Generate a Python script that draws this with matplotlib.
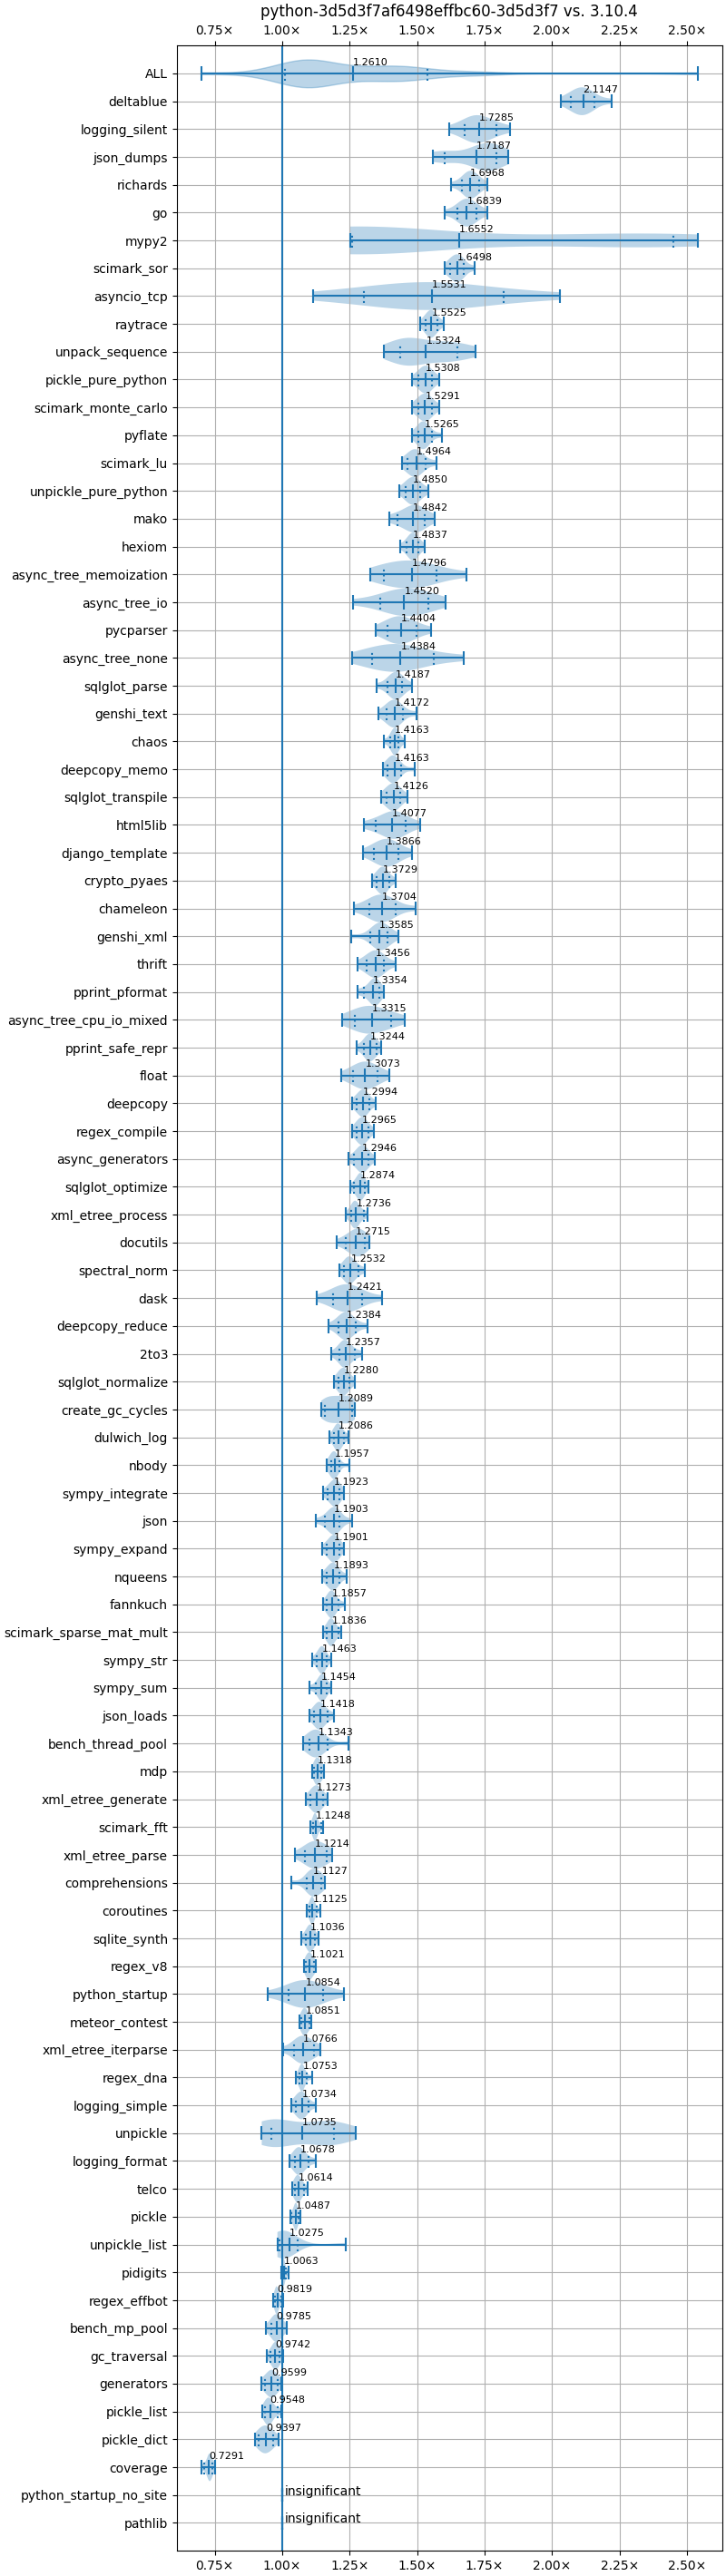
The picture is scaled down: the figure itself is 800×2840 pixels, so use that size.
import numpy as np
import matplotlib
matplotlib.use("Agg")
import matplotlib.pyplot as plt
from matplotlib.ticker import FuncFormatter

title = "python-3d5d3f7af6498effbc60-3d5d3f7 vs. 3.10.4"

# benchmarks, top of the chart to the bottom
benchmarks = [
    "deltablue", "logging_silent", "json_dumps", "richards", "go", "mypy2",
    "scimark_sor", "asyncio_tcp", "raytrace", "unpack_sequence",
    "pickle_pure_python", "scimark_monte_carlo", "pyflate", "scimark_lu",
    "unpickle_pure_python", "mako", "hexiom", "async_tree_memoization",
    "async_tree_io", "pycparser", "async_tree_none", "sqlglot_parse",
    "genshi_text", "chaos", "deepcopy_memo", "sqlglot_transpile", "html5lib",
    "django_template", "crypto_pyaes", "chameleon", "genshi_xml", "thrift",
    "pprint_pformat", "async_tree_cpu_io_mixed", "pprint_safe_repr", "float",
    "deepcopy", "regex_compile", "async_generators", "sqlglot_optimize",
    "xml_etree_process", "docutils", "spectral_norm", "dask",
    "deepcopy_reduce", "2to3", "sqlglot_normalize", "create_gc_cycles",
    "dulwich_log", "nbody", "sympy_integrate", "json", "sympy_expand",
    "nqueens", "fannkuch", "scimark_sparse_mat_mult", "sympy_str",
    "sympy_sum", "json_loads", "bench_thread_pool", "mdp",
    "xml_etree_generate", "scimark_fft", "xml_etree_parse", "comprehensions",
    "coroutines", "sqlite_synth", "regex_v8", "python_startup",
    "meteor_contest", "xml_etree_iterparse", "regex_dna", "logging_simple",
    "unpickle", "logging_format", "telco", "pickle", "unpickle_list",
    "pidigits", "regex_effbot", "bench_mp_pool", "gc_traversal", "generators",
    "pickle_list", "pickle_dict", "coverage", "python_startup_no_site",
    "pathlib",
]

# speedup samples per benchmark (None = insignificant), same order
samples = [
    [2.031, 2.070, 2.076, 2.094, 2.106, 2.1107, 2.118, 2.130, 2.148, 2.157, 2.221],
    [1.619, 1.677, 1.678, 1.702, 1.718, 1.7245, 1.734, 1.750, 1.774, 1.793, 1.844],
    [1.559, 1.602, 1.610, 1.715, 1.735, 1.750, 1.758, 1.765, 1.7807, 1.793, 1.838],
    [1.626, 1.667, 1.673, 1.685, 1.693, 1.6988, 1.701, 1.709, 1.721, 1.730, 1.761],
    [1.602, 1.648, 1.655, 1.670, 1.680, 1.6819, 1.690, 1.700, 1.715, 1.720, 1.761],
    [1.251, 1.258, 1.262, 1.268, 1.275, 1.285, 1.300, 2.050, 2.2702, 2.450, 2.538],
    [1.603, 1.623, 1.624, 1.636, 1.644, 1.6488, 1.652, 1.660, 1.672, 1.673, 1.712],
    [1.115, 1.302, 1.350, 1.4475, 1.5125, 1.5471, 1.5775, 1.6425, 1.740, 1.820, 2.030],
    [1.512, 1.531, 1.534, 1.543, 1.549, 1.5505, 1.555, 1.561, 1.570, 1.575, 1.597],
    [1.378, 1.438, 1.455, 1.465, 1.475, 1.490, 1.560, 1.600, 1.6304, 1.648, 1.717],
    [1.479, 1.505, 1.507, 1.519, 1.527, 1.5308, 1.535, 1.543, 1.555, 1.555, 1.583],
    [1.479, 1.503, 1.504, 1.516, 1.524, 1.5311, 1.532, 1.540, 1.552, 1.556, 1.583],
    [1.480, 1.503, 1.506, 1.515, 1.521, 1.5215, 1.527, 1.533, 1.542, 1.553, 1.590],
    [1.442, 1.464, 1.469, 1.481, 1.489, 1.4954, 1.497, 1.505, 1.517, 1.531, 1.570],
    [1.433, 1.456, 1.461, 1.473, 1.481, 1.482, 1.489, 1.497, 1.509, 1.512, 1.542],
    [1.396, 1.428, 1.451, 1.469, 1.481, 1.4872, 1.493, 1.505, 1.523, 1.528, 1.565],
    [1.438, 1.462, 1.466, 1.475, 1.481, 1.4837, 1.487, 1.493, 1.502, 1.505, 1.528],
    [1.326, 1.378, 1.384, 1.429, 1.459, 1.4716, 1.489, 1.519, 1.564, 1.573, 1.683],
    [1.262, 1.362, 1.379, 1.418, 1.444, 1.460, 1.470, 1.496, 1.535, 1.540, 1.606],
    [1.345, 1.389, 1.390, 1.414, 1.430, 1.4364, 1.446, 1.462, 1.486, 1.496, 1.550],
    [1.259, 1.332, 1.338, 1.383, 1.413, 1.4274, 1.443, 1.473, 1.518, 1.563, 1.673],
    [1.349, 1.389, 1.397, 1.409, 1.417, 1.4177, 1.425, 1.433, 1.445, 1.445, 1.479],
    [1.356, 1.386, 1.391, 1.403, 1.411, 1.4142, 1.419, 1.427, 1.439, 1.447, 1.496],
    [1.376, 1.400, 1.405, 1.411, 1.415, 1.4183, 1.419, 1.423, 1.429, 1.430, 1.453],
    [1.372, 1.391, 1.394, 1.403, 1.409, 1.4133, 1.415, 1.421, 1.430, 1.441, 1.490],
    [1.366, 1.386, 1.388, 1.400, 1.408, 1.4116, 1.416, 1.424, 1.436, 1.438, 1.465],
    [1.302, 1.345, 1.368, 1.389, 1.403, 1.4107, 1.417, 1.431, 1.452, 1.456, 1.511],
    [1.299, 1.341, 1.344, 1.365, 1.379, 1.3876, 1.393, 1.407, 1.428, 1.430, 1.479],
    [1.332, 1.350, 1.354, 1.363, 1.369, 1.3719, 1.375, 1.381, 1.390, 1.395, 1.421],
    [1.266, 1.322, 1.326, 1.347, 1.361, 1.3664, 1.375, 1.389, 1.410, 1.419, 1.493],
    [1.254, 1.325, 1.340, 1.352, 1.360, 1.3605, 1.368, 1.376, 1.388, 1.391, 1.429],
    [1.279, 1.311, 1.315, 1.330, 1.340, 1.3476, 1.350, 1.360, 1.375, 1.375, 1.419],
    [1.279, 1.302, 1.321, 1.330, 1.336, 1.3414, 1.342, 1.348, 1.357, 1.358, 1.375],
    [1.221, 1.269, 1.269, 1.299, 1.319, 1.3265, 1.339, 1.359, 1.389, 1.403, 1.453],
    [1.277, 1.302, 1.307, 1.316, 1.322, 1.3234, 1.328, 1.334, 1.343, 1.349, 1.367],
    [1.219, 1.261, 1.265, 1.286, 1.300, 1.3083, 1.314, 1.328, 1.349, 1.354, 1.396],
    [1.259, 1.274, 1.281, 1.290, 1.296, 1.2984, 1.302, 1.308, 1.317, 1.322, 1.346],
    [1.259, 1.274, 1.278, 1.287, 1.293, 1.2955, 1.299, 1.305, 1.314, 1.319, 1.338],
    [1.244, 1.267, 1.278, 1.287, 1.293, 1.2926, 1.299, 1.305, 1.314, 1.319, 1.342],
    [1.251, 1.267, 1.276, 1.282, 1.286, 1.2904, 1.290, 1.294, 1.300, 1.305, 1.320],
    [1.235, 1.256, 1.260, 1.266, 1.270, 1.2686, 1.274, 1.278, 1.284, 1.302, 1.316],
    [1.202, 1.235, 1.244, 1.259, 1.269, 1.2775, 1.279, 1.289, 1.304, 1.305, 1.323],
    [1.212, 1.230, 1.233, 1.242, 1.248, 1.2492, 1.254, 1.260, 1.269, 1.282, 1.306],
    [1.129, 1.188, 1.192, 1.216, 1.232, 1.2381, 1.248, 1.264, 1.288, 1.297, 1.371],
    [1.172, 1.210, 1.212, 1.224, 1.232, 1.2374, 1.240, 1.248, 1.260, 1.272, 1.315],
    [1.182, 1.213, 1.215, 1.224, 1.230, 1.2347, 1.236, 1.242, 1.251, 1.269, 1.296],
    [1.191, 1.208, 1.209, 1.218, 1.224, 1.228, 1.230, 1.236, 1.245, 1.250, 1.269],
    [1.144, 1.158, 1.168, 1.182, 1.196, 1.2089, 1.224, 1.238, 1.252, 1.258, 1.269],
    [1.174, 1.191, 1.196, 1.202, 1.206, 1.2046, 1.210, 1.214, 1.220, 1.230, 1.247],
    [1.165, 1.180, 1.180, 1.186, 1.190, 1.1947, 1.194, 1.198, 1.204, 1.213, 1.248],
    [1.151, 1.169, 1.175, 1.184, 1.190, 1.1963, 1.196, 1.202, 1.211, 1.211, 1.230],
    [1.125, 1.158, 1.173, 1.182, 1.188, 1.1923, 1.194, 1.200, 1.209, 1.213, 1.259],
    [1.149, 1.166, 1.173, 1.182, 1.188, 1.1891, 1.194, 1.200, 1.209, 1.211, 1.230],
    [1.149, 1.166, 1.170, 1.179, 1.185, 1.1883, 1.191, 1.197, 1.206, 1.211, 1.240],
    [1.152, 1.166, 1.171, 1.177, 1.181, 1.1857, 1.185, 1.189, 1.195, 1.208, 1.233],
    [1.152, 1.166, 1.170, 1.176, 1.180, 1.1826, 1.184, 1.188, 1.194, 1.208, 1.219],
    [1.112, 1.128, 1.134, 1.140, 1.144, 1.1483, 1.148, 1.152, 1.158, 1.163, 1.182],
    [1.102, 1.124, 1.135, 1.141, 1.145, 1.1464, 1.149, 1.153, 1.159, 1.163, 1.182],
    [1.102, 1.119, 1.122, 1.131, 1.137, 1.1378, 1.143, 1.149, 1.158, 1.169, 1.192],
    [1.076, 1.102, 1.102, 1.114, 1.122, 1.1283, 1.130, 1.138, 1.150, 1.169, 1.246],
    [1.110, 1.119, 1.120, 1.126, 1.130, 1.1288, 1.134, 1.138, 1.144, 1.146, 1.154],
    [1.089, 1.105, 1.108, 1.117, 1.123, 1.1293, 1.129, 1.135, 1.144, 1.152, 1.169],
    [1.105, 1.115, 1.117, 1.120, 1.122, 1.1198, 1.124, 1.126, 1.129, 1.143, 1.152],
    [1.048, 1.085, 1.086, 1.104, 1.116, 1.1234, 1.128, 1.140, 1.158, 1.163, 1.184],
    [1.035, 1.091, 1.092, 1.104, 1.112, 1.1147, 1.120, 1.128, 1.140, 1.146, 1.157],
    [1.092, 1.100, 1.105, 1.108, 1.110, 1.1115, 1.112, 1.114, 1.117, 1.126, 1.142],
    [1.071, 1.088, 1.091, 1.097, 1.101, 1.1056, 1.105, 1.109, 1.115, 1.122, 1.135],
    [1.082, 1.089, 1.089, 1.095, 1.099, 1.1031, 1.103, 1.107, 1.113, 1.119, 1.124],
    [0.945, 1.022, 1.024, 1.054, 1.074, 1.0864, 1.094, 1.114, 1.144, 1.152, 1.230],
    [1.064, 1.072, 1.072, 1.078, 1.082, 1.0851, 1.086, 1.090, 1.096, 1.102, 1.109],
    [1.002, 1.044, 1.047, 1.062, 1.072, 1.0756, 1.082, 1.092, 1.107, 1.119, 1.140],
    [1.051, 1.063, 1.067, 1.070, 1.072, 1.0753, 1.074, 1.076, 1.079, 1.091, 1.110],
    [1.034, 1.050, 1.054, 1.063, 1.069, 1.0704, 1.075, 1.081, 1.090, 1.096, 1.125],
    [0.924, 0.959, 0.962, 0.968, 0.980, 1.060, 1.150, 1.170, 1.1725, 1.191, 1.272],
    [1.028, 1.046, 1.047, 1.056, 1.062, 1.0618, 1.068, 1.074, 1.083, 1.096, 1.124],
    [1.037, 1.046, 1.048, 1.054, 1.058, 1.0574, 1.062, 1.066, 1.072, 1.080, 1.095],
    [1.029, 1.035, 1.043, 1.046, 1.048, 1.0507, 1.050, 1.052, 1.055, 1.059, 1.068],
    [0.982, 0.989, 0.993, 0.999, 1.003, 1.0075, 1.007, 1.011, 1.017, 1.058, 1.236],
    [0.995, 1.000, 1.001, 1.003, 1.004, 1.0073, 1.006, 1.007, 1.009, 1.015, 1.022],
    [0.966, 0.973, 0.974, 0.977, 0.979, 0.9819, 0.981, 0.983, 0.986, 0.996, 1.004],
    [0.939, 0.960, 0.960, 0.969, 0.975, 0.9795, 0.981, 0.987, 0.996, 1.000, 1.017],
    [0.944, 0.956, 0.963, 0.969, 0.973, 0.9722, 0.977, 0.981, 0.987, 0.991, 1.003],
    [0.923, 0.935, 0.942, 0.951, 0.957, 0.9599, 0.963, 0.969, 0.978, 0.983, 0.998],
    [0.927, 0.935, 0.939, 0.945, 0.949, 0.9538, 0.953, 0.957, 0.963, 0.983, 0.998],
    [0.900, 0.914, 0.915, 0.927, 0.935, 0.9377, 0.943, 0.951, 0.963, 0.965, 0.986],
    [0.701, 0.712, 0.725, 0.728, 0.730, 0.7281, 0.732, 0.734, 0.737, 0.741, 0.752],
    None,
    None,
]

# the "ALL" row
all_samples = [
    0.701, 0.930, 0.960, 0.985, 1.010,
    1.020, 1.040, 1.055, 1.065, 1.075, 1.085, 1.090, 1.095, 1.100, 1.105,
    1.110, 1.115, 1.120, 1.130, 1.145,
    1.170, 1.190, 1.210, 1.240, 1.270, 1.300,
    1.330, 1.360, 1.380, 1.400, 1.410, 1.430, 1.450, 1.470, 1.490, 1.510,
    1.537, 1.620, 1.700, 1.760, 2.538,
]

# violinplot counts positions from the bottom
names = benchmarks[::-1]
data = samples[::-1]

fig, ax = plt.subplots(figsize=(8, 2 + len(names) * 0.3), layout="constrained")
ax.axvline(1.0)

violins = []
for i, values in enumerate(data):
    if values is None:
        violins.append([1.0])
        ax.text(1.01, i + 1, "insignificant")
    else:
        violins.append(values)

style = dict(orientation="horizontal", showmeans=True, showmedians=False, widths=1.0)

parts = ax.violinplot(violins, quantiles=[[0.1, 0.9]] * len(violins), **style)
parts["cquantiles"].set_linestyle(":")

# ALL has many more points behind it, so its kernel is narrower
all_pos = len(violins) + 1
parts_all = ax.violinplot([all_samples], positions=[all_pos], bw_method=0.3,
                          quantiles=[[0.1, 0.9]], **style)
parts_all["cquantiles"].set_linestyle(":")
# keep the same blue as the other rows
for body in parts_all["bodies"]:
    body.set_facecolor("C0")
    body.set_edgecolor("C0")
for key in ["cmins", "cmaxes", "cbars", "cmeans", "cquantiles"]:
    parts_all[key].set_color("C0")

for i, values in enumerate(violins + [all_samples]):
    if len(values) > 1:
        mean = np.mean(values)
        ax.text(mean, i + 1.3, f"{mean:.04f}", size=8)

labels = names + ["ALL"]
ax.set_yticks(np.arange(len(labels)) + 1, labels)
ax.set_ylim(0, len(labels) + 1)
ax.tick_params(axis="x", bottom=True, top=True, labelbottom=True, labeltop=True)
ax.xaxis.set_major_formatter(FuncFormatter(lambda x, pos: f"{x:.2f}×"))
ax.grid()
ax.set_title(title)

fig.savefig("out.png", dpi=100)
